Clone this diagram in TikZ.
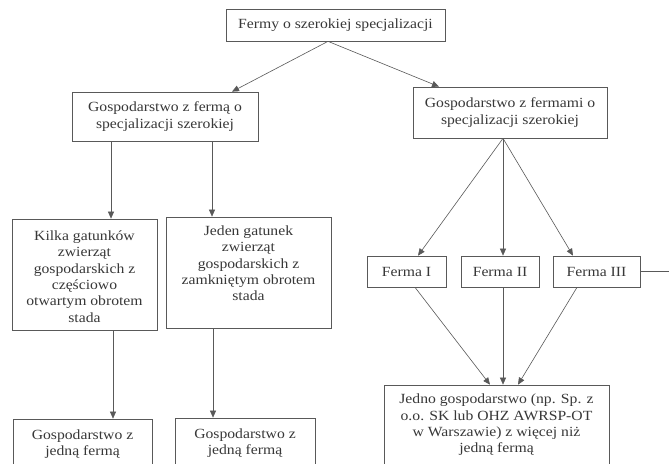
\documentclass[tikz,border=0pt]{standalone}
\usepackage{fontspec}
\setmainfont{Liberation Serif}[FakeStretch=1.12]
\usetikzlibrary{arrows.meta,calc}
\definecolor{linec}{gray}{0.35}
\definecolor{textc}{gray}{0.22}
\newcommand{\bxc}[3]{\parbox[c][#2][c]{#1}{\centering #3}}
\newcommand{\bxt}[3]{\parbox[c][#2][t]{#1}{\centering #3}}
\tikzset{
  box/.style={draw=linec, line width=0.7pt, inner sep=0pt, text=textc,
    font=\fontsize{14}{16.3}\selectfont},
  conn/.style={draw=linec, line width=0.6pt, -{Triangle[length=7pt,width=6pt]}}
}
\begin{document}
\begin{tikzpicture}[x=1pt,y=-1pt]
\useasboundingbox (0,0) rectangle (669,463);
\clip (0,0) rectangle (669,463);
\fill[white] (0,0) rectangle (669,463);
\node[box] (top) at (335.5,25) {\bxc{219pt}{32pt}{Fermy o szerokiej specjalizacji}};
\node[box] (L2) at (165,116.5) {\bxc{186pt}{49pt}{Gospodarstwo z fermą o\\specjalizacji szerokiej}};
\node[box] (R2) at (510,112.5) {\bxc{194pt}{51pt}{Gospodarstwo z fermami o\\specjalizacji szerokiej}};
\node[box] (K) at (84.5,274.5) {\bxt{145pt}{111pt}{\rule{0pt}{21.5pt}Kilka gatunków\\zwierząt\\gospodarskich z\\częściowo\\otwartym obrotem\\stada}};
\node[box] (J) at (248.5,272.5) {\bxt{165pt}{111pt}{\rule{0pt}{18.5pt}Jeden gatunek\\zwierząt\\gospodarskich z\\zamkniętym obrotem\\stada}};
\node[box] (B1) at (82.5,444) {\bxc{139pt}{50pt}{Gospodarstwo z\\jedną fermą}};
\node[box] (B2) at (245,443) {\bxc{140pt}{50pt}{Gospodarstwo z\\jedną fermą}};
\node[box] (F1) at (406.5,271.5) {\bxc{79pt}{31pt}{Ferma I}};
\node[box] (F2) at (500,271.5) {\bxc{78pt}{31pt}{Ferma II}};
\node[box] (F3) at (596.5,271.5) {\bxc{87pt}{31pt}{Ferma III}};
\node[box] (Big) at (496.5,425) {\bxc{225pt}{80pt}{Jedno gospodarstwo (np. Sp. z\\o.o. SK lub OHZ AWRSP-OT\\w Warszawie) z więcej niż\\jedną fermą}};
\coordinate (edge) at (676,271.5);
\draw[conn] ($(top.south)+(-7.5,0)$) -- ($(L2.north)+(67,0)$);
\draw[conn] ($(top.south)+(-7.5,0)$) -- ($(R2.north)+(-71,0)$);
\draw[conn] ($(L2.south)+(-54,0)$) -- ($(K.north)+(26.5,0)$);
\draw[conn] ($(L2.south)+(47,0)$) -- ($(J.north)+(-36.5,0)$);
\draw[conn] ($(K.south)+(28.5,0)$) -- ($(B1.north)+(30.5,0)$);
\draw[conn] ($(J.south)+(-35.5,0)$) -- ($(B2.north)+(-32,0)$);
\draw[conn] ($(R2.south)+(-7,0)$) -- ($(F1.north)+(11.5,0)$);
\draw[conn] ($(R2.south)+(-7,0)$) -- ($(F2.north)+(3,0)$);
\draw[conn] ($(R2.south)+(-7,0)$) -- ($(F3.north)+(-23.5,0)$);
\draw[conn] ($(F1.south)+(8.5,0)$) -- ($(Big.north)+(-6.5,0)$);
\draw[conn] ($(F2.south)+(3,0)$) -- ($(Big.north)+(6.5,0)$);
\draw[conn] ($(F3.south)+(-19.5,0)$) -- ($(Big.north)+(21.5,0)$);
\draw[conn] (F3.east) -- (edge);
\end{tikzpicture}
\end{document}
